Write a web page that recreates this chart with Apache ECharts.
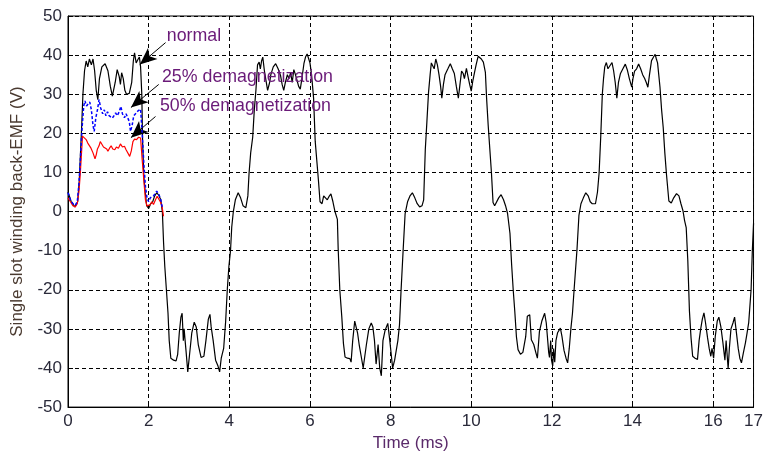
<!DOCTYPE html>
<html>
<head>
<meta charset="utf-8">
<script src="https://cdn.jsdelivr.net/npm/echarts@6/dist/echarts.min.js"></script>
<style>
    html, body { margin: 0; padding: 0; background: #fff; }
    #indexChart { width: 766px; height: 457px; }
</style>
</head>
<body>
<div id="indexChart"></div>
<script>
// normal back-EMF, [time ms, volts]
var normalData = [
    [0, 5], [0.08, 2.5], [0.17, 1.2], [0.24, 2.5], [0.28, 8], [0.31, 15], [0.34, 22], [0.37, 30], [0.41, 36], [0.45, 38.5],
    [0.49, 37], [0.53, 39], [0.58, 37.5], [0.62, 39], [0.66, 36], [0.7, 31], [0.74, 28.6], [0.78, 34], [0.84, 37], [0.92, 37.8],
    [0.99, 36], [1.05, 32], [1.1, 29.5], [1.13, 29], [1.17, 33], [1.22, 36.3], [1.27, 34.5], [1.3, 32.5], [1.33, 35.5], [1.37, 34],
    [1.41, 31], [1.45, 30], [1.52, 30.2], [1.58, 33], [1.62, 38.5], [1.65, 40.6], [1.69, 38], [1.73, 38.8], [1.77, 39.5], [1.8, 37],
    [1.83, 30], [1.85, 18], [1.88, 9], [1.91, 5.5], [1.95, 1.5], [2.0, 0.8], [2.05, 2], [2.1, 2.5], [2.15, 4], [2.2, 4.8],
    [2.25, 4.2], [2.3, 3], [2.34, 0], [2.37, -8], [2.4, -14], [2.44, -20], [2.48, -26], [2.51, -33], [2.55, -37.5], [2.62, -38],
    [2.68, -38.2], [2.72, -36.5], [2.76, -31], [2.8, -27], [2.83, -26], [2.86, -33], [2.88, -30], [2.9, -32.5], [2.93, -36], [2.97, -41],
    [3.01, -37], [3.07, -31], [3.13, -28.3], [3.18, -29.5], [3.23, -34], [3.3, -37.3], [3.37, -37], [3.42, -33], [3.48, -27.5], [3.52, -26.3],
    [3.55, -29.5], [3.6, -33], [3.66, -38], [3.72, -39.5], [3.76, -41], [3.8, -37.5], [3.86, -35], [3.91, -28], [3.95, -20], [3.99, -14],
    [4.03, -10], [4.06, -4], [4.1, 0], [4.15, 3], [4.22, 4.8], [4.28, 3.5], [4.34, 1.5], [4.41, 1], [4.46, 4], [4.49, 9.8],
    [4.53, 15], [4.58, 19], [4.62, 26], [4.66, 31], [4.7, 37.5], [4.74, 38.2], [4.77, 36.5], [4.8, 38.5], [4.83, 39.5], [4.87, 36],
    [4.91, 33.5], [4.95, 31], [4.97, 30.5], [5.0, 33], [5.03, 35], [5.09, 37], [5.15, 37.8], [5.21, 36.5], [5.27, 34.8], [5.31, 32.5],
    [5.35, 31], [5.39, 33], [5.44, 35], [5.48, 34], [5.52, 35.5], [5.56, 33], [5.6, 36.3], [5.64, 35], [5.68, 33.5], [5.72, 32],
    [5.76, 31.3], [5.8, 34], [5.85, 37.8], [5.89, 39.5], [5.93, 40.3], [5.97, 39], [6.0, 38], [6.04, 35], [6.09, 29], [6.13, 18],
    [6.17, 13], [6.21, 8], [6.25, 2.5], [6.3, 2.0], [6.34, 4], [6.38, 4.5], [6.43, 3], [6.47, 3.8], [6.52, 4.5], [6.57, 2.5],
    [6.62, 0], [6.68, -2], [6.7, -9.6], [6.74, -20], [6.79, -27], [6.83, -33.7], [6.87, -37.2], [6.93, -37.5], [6.99, -37.6], [7.02, -38.5],
    [7.06, -33], [7.11, -28], [7.14, -27.5], [7.18, -31], [7.22, -34], [7.27, -37], [7.32, -40], [7.36, -37], [7.4, -34], [7.46, -30],
    [7.52, -28.5], [7.56, -29.5], [7.6, -33], [7.64, -39], [7.69, -34], [7.73, -40], [7.77, -42], [7.81, -33], [7.86, -30.5], [7.93, -28.6],
    [7.98, -33], [8.05, -40], [8.1, -38], [8.18, -33], [8.22, -29], [8.26, -20], [8.31, -10], [8.36, -0.5], [8.42, 2.5], [8.48, 4],
    [8.54, 4.8], [8.6, 3.5], [8.66, 2], [8.72, 1.2], [8.78, 1.5], [8.82, 3], [8.86, 15.8], [8.9, 23], [8.94, 30.4], [8.98, 35],
    [9.01, 38], [9.05, 37.5], [9.08, 36.5], [9.12, 39], [9.16, 37.5], [9.2, 35], [9.24, 32], [9.27, 29], [9.31, 32.5], [9.35, 35],
    [9.42, 36.5], [9.48, 37.8], [9.53, 36.5], [9.58, 35.3], [9.63, 32], [9.68, 29], [9.72, 32.5], [9.76, 35.9], [9.8, 35.3], [9.83, 34],
    [9.88, 36.6], [9.92, 34.5], [9.96, 32.5], [10.0, 30.8], [10.04, 33.5], [10.08, 35.5], [10.12, 37.5], [10.17, 39.7], [10.2, 40.1], [10.25, 39],
    [10.3, 38.2], [10.35, 35.6], [10.38, 29], [10.42, 22], [10.46, 16], [10.5, 10], [10.54, 2.3], [10.58, 1.5], [10.62, 1.8], [10.68, 3.5],
    [10.74, 4.3], [10.8, 3], [10.85, 1.5], [10.9, -0.5], [10.96, -5.6], [11.0, -13.4], [11.04, -20], [11.08, -25.6], [11.12, -32], [11.16, -35.3],
    [11.22, -36.5], [11.28, -36], [11.31, -36.5], [11.35, -32], [11.39, -26.8], [11.45, -26.4], [11.49, -32.8], [11.55, -34], [11.6, -36], [11.64, -37.5],
    [11.69, -30.7], [11.75, -28], [11.82, -26], [11.86, -28.5], [11.88, -31], [11.92, -36], [11.94, -37.3], [11.97, -33], [11.99, -38], [12.02, -39.5],
    [12.04, -35], [12.07, -38.5], [12.1, -33], [12.14, -31], [12.21, -29.8], [12.25, -32], [12.3, -35.5], [12.35, -37.5], [12.39, -38.7], [12.43, -35],
    [12.47, -30], [12.51, -26], [12.55, -20], [12.62, -10], [12.67, -1], [12.72, 2], [12.78, 3.5], [12.84, 4.8], [12.9, 4], [12.95, 2.5],
    [13.0, 2], [13.08, 2], [13.13, 5], [13.17, 9.8], [13.21, 19], [13.25, 30], [13.28, 34], [13.31, 37], [13.35, 38.1], [13.39, 36.5],
    [13.43, 37], [13.49, 38.1], [13.53, 36], [13.57, 33], [13.61, 29], [13.65, 33], [13.7, 35.3], [13.76, 36.5], [13.82, 37.7], [13.87, 36.2],
    [13.92, 34], [13.98, 31.8], [14.01, 34], [14.05, 35.9], [14.1, 36.5], [14.15, 37.7], [14.2, 36.5], [14.25, 35], [14.3, 34], [14.34, 33],
    [14.38, 31.8], [14.42, 35], [14.47, 38.6], [14.52, 39.5], [14.56, 40.2], [14.59, 39], [14.62, 38], [14.68, 31.8], [14.72, 26], [14.76, 21.5],
    [14.8, 15], [14.84, 9.6], [14.9, 2.7], [14.96, 2.2], [15.02, 3.5], [15.09, 4.6], [15.15, 4], [15.2, 2], [15.25, 0.2], [15.29, -2.3],
    [15.33, -4.1], [15.37, -12.6], [15.41, -25.4], [15.45, -32.3], [15.49, -37], [15.55, -37.5], [15.61, -37.8], [15.65, -33], [15.69, -30], [15.73, -27.5],
    [15.77, -25.9], [15.81, -28.5], [15.86, -32.3], [15.9, -35], [15.94, -37], [15.97, -35], [16.01, -37.5], [16.05, -32], [16.1, -28], [16.14, -27],
    [16.19, -29.5], [16.24, -33.5], [16.29, -38], [16.32, -33], [16.37, -40.2], [16.4, -35], [16.44, -30], [16.49, -28.5], [16.53, -27], [16.57, -30.5],
    [16.62, -35], [16.66, -37.5], [16.7, -38.7], [16.75, -36], [16.8, -33.5], [16.84, -31], [16.88, -28.4], [16.94, -19.8], [16.97, -10], [17.0, -3]
];

// 25% demagnetization (blue dotted)
var demag25Data = [
    [0, 4.8], [0.06, 3], [0.12, 2], [0.18, 1.6], [0.23, 2.5], [0.27, 7], [0.3, 12], [0.33, 18], [0.36, 23], [0.39, 27],
    [0.42, 28.3], [0.46, 27], [0.5, 26.9], [0.54, 28], [0.58, 26], [0.62, 22], [0.65, 20.5], [0.69, 24], [0.73, 26], [0.77, 28.6],
    [0.81, 26.5], [0.86, 25], [0.9, 26], [0.94, 24.5], [0.98, 25.5], [1.02, 24.5], [1.06, 25], [1.1, 23.9], [1.14, 24.5], [1.18, 25.2],
    [1.22, 24.5], [1.27, 25.5], [1.31, 26.9], [1.35, 25], [1.4, 24], [1.44, 25], [1.48, 24.5], [1.52, 23], [1.55, 20.5], [1.59, 22],
    [1.63, 24.5], [1.69, 25.2], [1.74, 25.8], [1.8, 26.2], [1.84, 20], [1.88, 12.4], [1.92, 6.5], [1.96, 3.4], [2.0, 2.5], [2.04, 3.5],
    [2.08, 3], [2.12, 4], [2.16, 4.5], [2.2, 5.2], [2.25, 4.5], [2.3, 3], [2.34, 1]
];

// 50% demagnetization (red)
var demag50Data = [
    [0, 3.5], [0.06, 2.5], [0.12, 1.5], [0.18, 1.2], [0.23, 2], [0.27, 5], [0.3, 9], [0.33, 14], [0.36, 19.3], [0.4, 19],
    [0.45, 18.4], [0.49, 17.5], [0.53, 18], [0.57, 16.2], [0.62, 15], [0.67, 13.5], [0.7, 14.5], [0.73, 16], [0.77, 16.8], [0.8, 17.9],
    [0.84, 17.2], [0.88, 16.5], [0.92, 17], [0.96, 16], [0.99, 15.4], [1.03, 16.2], [1.07, 16.8], [1.11, 16], [1.16, 15.8], [1.2, 16.5],
    [1.25, 16.2], [1.3, 17.3], [1.35, 16.5], [1.4, 16.7], [1.44, 15.8], [1.48, 15.6], [1.53, 14.1], [1.57, 15.5], [1.61, 17.9], [1.65, 18.5],
    [1.7, 18.4], [1.75, 19], [1.8, 18.8], [1.84, 13.2], [1.88, 8.1], [1.92, 3], [1.96, 1.4], [2.0, 1.6], [2.04, 1.8], [2.08, 2.5],
    [2.12, 1.8], [2.17, 3], [2.21, 3.9], [2.25, 3.5], [2.29, 2.5], [2.33, 1.4], [2.37, -1.2]
];

// annotation texts and arrows (data units)
var noteTexts = ['normal', '25% demagnetization', '50% demagnetization'];
var noteTextAt = [[2.45, 44.8], [2.33, 34.3], [2.28, 26.9]];
var arrowFrom = [[2.42, 43.2], [2.25, 32.5], [2.17, 24.3]];
var arrowTo = [[1.78, 37.6], [1.56, 26.6], [1.56, 18.9]];

var FONT = '"Liberation Sans", Arial, sans-serif';

var app = {
    initChart: function() {
        var indexChart = echarts.init(document.getElementById('indexChart'));

        var arrowLines = [];
        for (var i = 0; i < arrowFrom.length; i++) {
            arrowLines.push([{ coord: arrowFrom[i] }, { coord: arrowTo[i] }]);
        }

        var option = {
            animation: false,
            backgroundColor: '#fff',
            grid: {
                left: 68,
                right: 4,
                top: 16,
                bottom: 48,
                show: true,
                borderColor: '#000',
                borderWidth: 1
            },
            //X轴设置
            xAxis: {
                type: 'value',
                min: 0,
                max: 17,
                interval: 2,
                name: 'Time (ms)',
                nameLocation: 'middle',
                nameGap: 27,
                nameTextStyle: { color: '#5a2a6a', fontSize: 17, fontFamily: FONT },
                axisLine: { onZero: false, lineStyle: { color: '#000', width: 1 } },
                axisTick: { inside: true, length: 5, lineStyle: { color: '#000' } },
                axisLabel: { color: '#2a2a3a', fontSize: 17, fontFamily: FONT, margin: 6 },
                splitLine: { show: true, lineStyle: { color: '#000', type: [4, 3], width: 1 } }
            },
            //Y轴设置
            yAxis: {
                type: 'value',
                min: -50,
                max: 50,
                interval: 10,
                name: 'Single slot winding back-EMF (V)',
                nameLocation: 'middle',
                nameGap: 42,
                nameTextStyle: { color: '#4a3a30', fontSize: 17, fontFamily: FONT },
                axisLine: { onZero: false, lineStyle: { color: '#000', width: 1 } },
                axisTick: { inside: true, length: 5, lineStyle: { color: '#000' } },
                axisLabel: { color: '#2a2a3a', fontSize: 17, fontFamily: FONT, margin: 6 },
                splitLine: { show: true, lineStyle: { color: '#000', type: [4, 3], width: 1 } }
            },
            series: [
                {
                    name: 'normal',
                    type: 'line',
                    data: normalData,
                    symbol: 'none',
                    lineStyle: { color: '#000', width: 1.2 },
                    z: 3,
                    markLine: {
                        silent: true,
                        symbol: ['none', 'arrow'],
                        symbolSize: [11, 17],
                        label: { show: false },
                        lineStyle: { color: '#000', width: 1, type: 'solid' },
                        itemStyle: { color: '#000' },
                        data: arrowLines
                    }
                },
                {
                    name: '50% demagnetization',
                    type: 'line',
                    data: demag50Data,
                    symbol: 'none',
                    lineStyle: { color: '#ff0000', width: 1.2 },
                    z: 4
                },
                {
                    name: '25% demagnetization',
                    type: 'line',
                    data: demag25Data,
                    symbol: 'none',
                    lineStyle: { color: '#0000ff', width: 1.5, type: [3, 2] },
                    z: 5
                }
            ]
        };

        indexChart.setOption(option, true);

        // 注释文字
        var texts = [];
        noteTexts.forEach(function(t, i) {
            var p = indexChart.convertToPixel({ gridIndex: 0 }, noteTextAt[i]);
            texts.push({
                type: 'text',
                x: p[0],
                y: p[1],
                z: 10,
                style: {
                    text: t,
                    fill: '#6a1a78',
                    font: '17.8px ' + FONT,
                    verticalAlign: 'middle'
                }
            });
        });
        indexChart.setOption({ graphic: texts });
    }
};

app.initChart();
</script>
</body>
</html>
